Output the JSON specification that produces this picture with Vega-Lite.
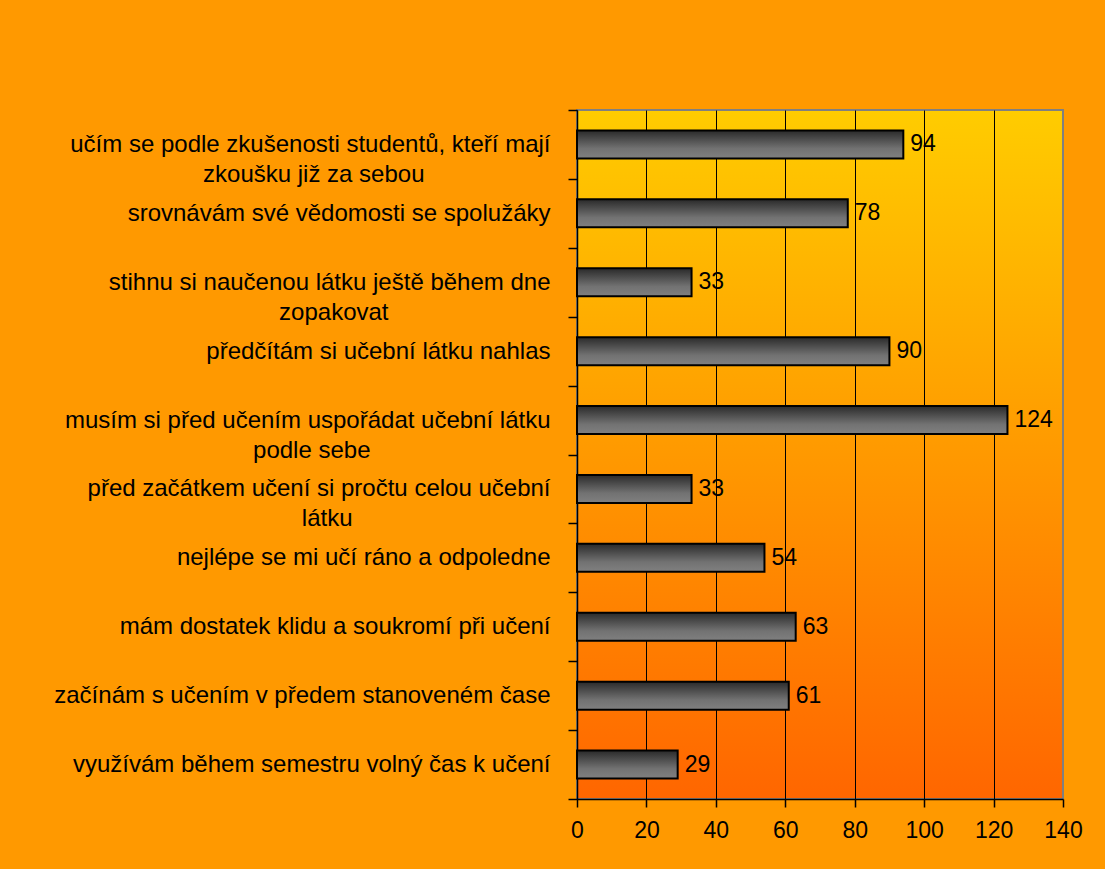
{
  "$schema": "https://vega.github.io/schema/vega-lite/v6.json",
  "width": 486,
  "height": 689,
  "autosize": "none",
  "padding": {"left": 577, "top": 110, "right": 42, "bottom": 70},
  "background": "#FF9900",
  "config": {"font": "Liberation Sans"},
  "view": {
    "fill": {"gradient": "linear", "x1": 0, "y1": 0, "x2": 0, "y2": 1,
      "stops": [{"offset": 0, "color": "#FFCC00"}, {"offset": 1, "color": "#FF6600"}]},
    "stroke": "#808080",
    "strokeWidth": 2
  },
  "data": {
    "values": [
      {"item": "učím se podle zkušenosti studentů, kteří mají|zkoušku již za sebou", "count": 94},
      {"item": "srovnávám své vědomosti se spolužáky", "count": 78},
      {"item": "stihnu si naučenou látku ještě během dne|zopakovat", "count": 33},
      {"item": "předčítám si učební látku nahlas", "count": 90},
      {"item": "musím si před učením uspořádat učební látku|podle sebe", "count": 124},
      {"item": "před začátkem učení si pročtu celou učební|látku", "count": 33},
      {"item": "nejlépe se mi učí ráno a odpoledne", "count": 54},
      {"item": "mám dostatek klidu a soukromí při učení", "count": 63},
      {"item": "začínám s učením v předem stanoveném čase", "count": 61},
      {"item": "využívám během semestru volný čas k učení", "count": 29}
    ]
  },
  "layer": [
    {
      "mark": {
        "type": "bar",
        "size": 28,
        "stroke": "black",
        "strokeWidth": 2,
        "fill": {"gradient": "linear", "x1": 0, "y1": 0, "x2": 0, "y2": 1,
          "stops": [{"offset": 0, "color": "#2a2a2a"}, {"offset": 0.65, "color": "#727272"}, {"offset": 1, "color": "#808080"}]}
      },
      "encoding": {
        "y": {
          "field": "item", "type": "nominal", "sort": null,
          "scale": {"paddingInner": 0, "paddingOuter": 0},
          "axis": {
            "title": null,
            "labelExpr": "indexof(datum.label, '|') < 0 ? datum.label : [split(datum.label, '|')[0], pad(split(datum.label, '|')[1], length(split(datum.label, '|')[1]) + (indexof(datum.label, 'učím') == 0 ? 7 : indexof(datum.label, 'stihnu') == 0 ? 9 : indexof(datum.label, 'musím') == 0 ? 10 : 11), '\u2800')]",
            "labelFontSize": 24,
            "labelColor": "black",
            "labelLineHeight": 30,
            "labelLimit": 0,
            "labelBaseline": "middle",
            "labelAlign": "right",
            "labelPadding": 18,
            "tickBand": "extent",
            "tickSize": 9,
            "tickColor": "black",
            "tickWidth": 1.5,
            "domainColor": "black",
            "domainWidth": 1.5,
            "grid": false
          }
        },
        "x": {
          "field": "count", "type": "quantitative",
          "scale": {"domain": [0, 140], "nice": false},
          "axis": {
            "title": null,
            "values": [0, 20, 40, 60, 80, 100, 120, 140],
            "grid": true,
            "gridColor": {"condition": {"test": "datum.value == 140", "value": "#808080"}, "value": "black"},
            "gridWidth": 1,
            "tickSize": 8,
            "tickColor": "black",
            "tickWidth": 1.5,
            "domainColor": "black",
            "domainWidth": 1.5,
            "labelFontSize": 23,
            "labelColor": "black",
            "labelPadding": 12,
            "labelFlush": false,
            "labelOverlap": false
          }
        }
      }
    },
    {
      "mark": {"type": "text", "align": "left", "baseline": "middle", "dx": 7, "fontSize": 23, "color": "black"},
      "encoding": {
        "y": {"field": "item", "type": "nominal", "sort": null},
        "x": {"field": "count", "type": "quantitative"},
        "text": {"field": "count", "type": "quantitative"}
      }
    }
  ]
}
